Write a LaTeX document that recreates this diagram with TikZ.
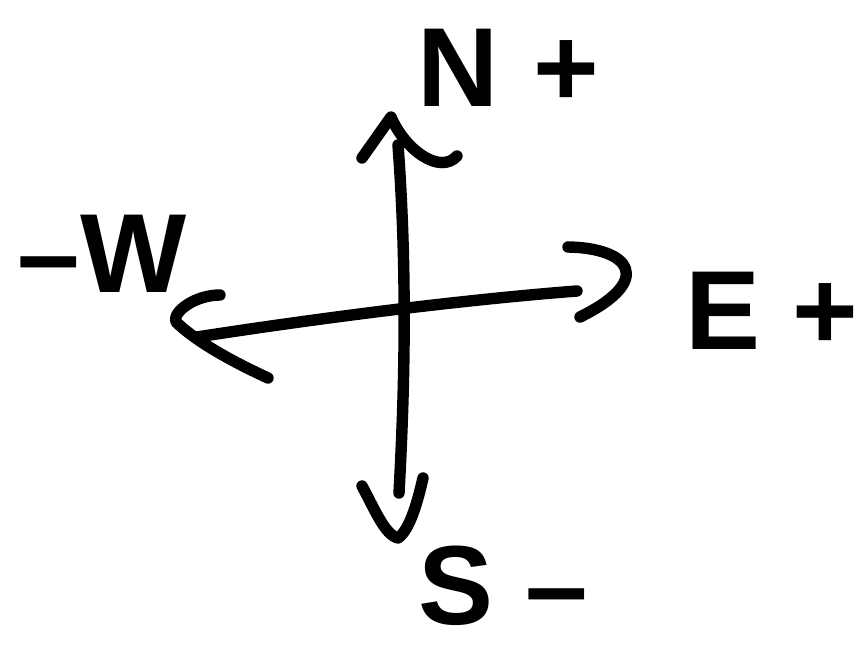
\documentclass[tikz,border=0pt]{standalone}
\usepackage{fontspec}
\setmainfont{Liberation Sans}
\usepackage{tikz}
\usetikzlibrary{arrows.meta,positioning,calc}
\tikzset{
    traco/.style={
        draw,
        line width=6.5pt,
        line cap=round,
        line join=round
    },
    eixo/.style={traco},
    ponta/.style={traco},
    rotulo/.style={
        inner sep=0pt,
        font=\fontsize{64}{68}\selectfont\bfseries
    }
}

\begin{document}
\begin{tikzpicture}[x=0.02cm, y=-0.02cm]
        \useasboundingbox (0,0) rectangle (865,652);

        % pontas e extremos dos eixos
        \coordinate (norte) at (391,117);
        \coordinate (sul)   at (398,538);
        \coordinate (leste) at (627,270);
        \coordinate (oeste) at (176,322);
        \coordinate (topoV) at (398,145);
        \coordinate (baseV) at (399,493);
        \coordinate (esqH)  at (197,337);
        \coordinate (dirH)  at (577,291);

        % extremos das farpas
        \coordinate (nEsq) at (362,158); \coordinate (nDir) at (457,156);
        \coordinate (sEsq) at (362,486); \coordinate (sDir) at (423,478);
        \coordinate (lCima) at (568,247); \coordinate (lBaixo) at (580,317);
        \coordinate (oCima) at (220,295); \coordinate (oBaixo) at (268,378);

        % eixos
        \draw[eixo] (topoV) .. controls (408,280) and (404,400) .. (baseV);
        \draw[eixo] (esqH) .. controls (320,318) and (460,300) .. (dirH);

        % pontas das setas
        \draw[ponta] (nEsq) -- (norte) .. controls (405,150) and (440,175) .. (nDir);
        \draw[ponta] (sEsq) .. controls (375,510) and (385,535) .. (sul)
            .. controls (410,530) and (418,500) .. (sDir);
        \draw[ponta] (lCima) .. controls (630,248) and (655,280) .. (lBaixo);
        \draw[ponta] (oCima) .. controls (195,295) and (172,312) .. (oeste)
            .. controls (200,345) and (240,365) .. (oBaixo);

        % rotulos
        \node[rotulo] (rotN) at (508,68)  {N\hspace{20pt}+};
        \node[rotulo] (rotE) at (772,311) {E\hspace{18pt}+};
        \node[rotulo] (rotW) at (102,254) {--W};
        \node[rotulo] (rotS) at (503,586) {S\hspace{18pt}--};
    \end{tikzpicture}
\end{document}
